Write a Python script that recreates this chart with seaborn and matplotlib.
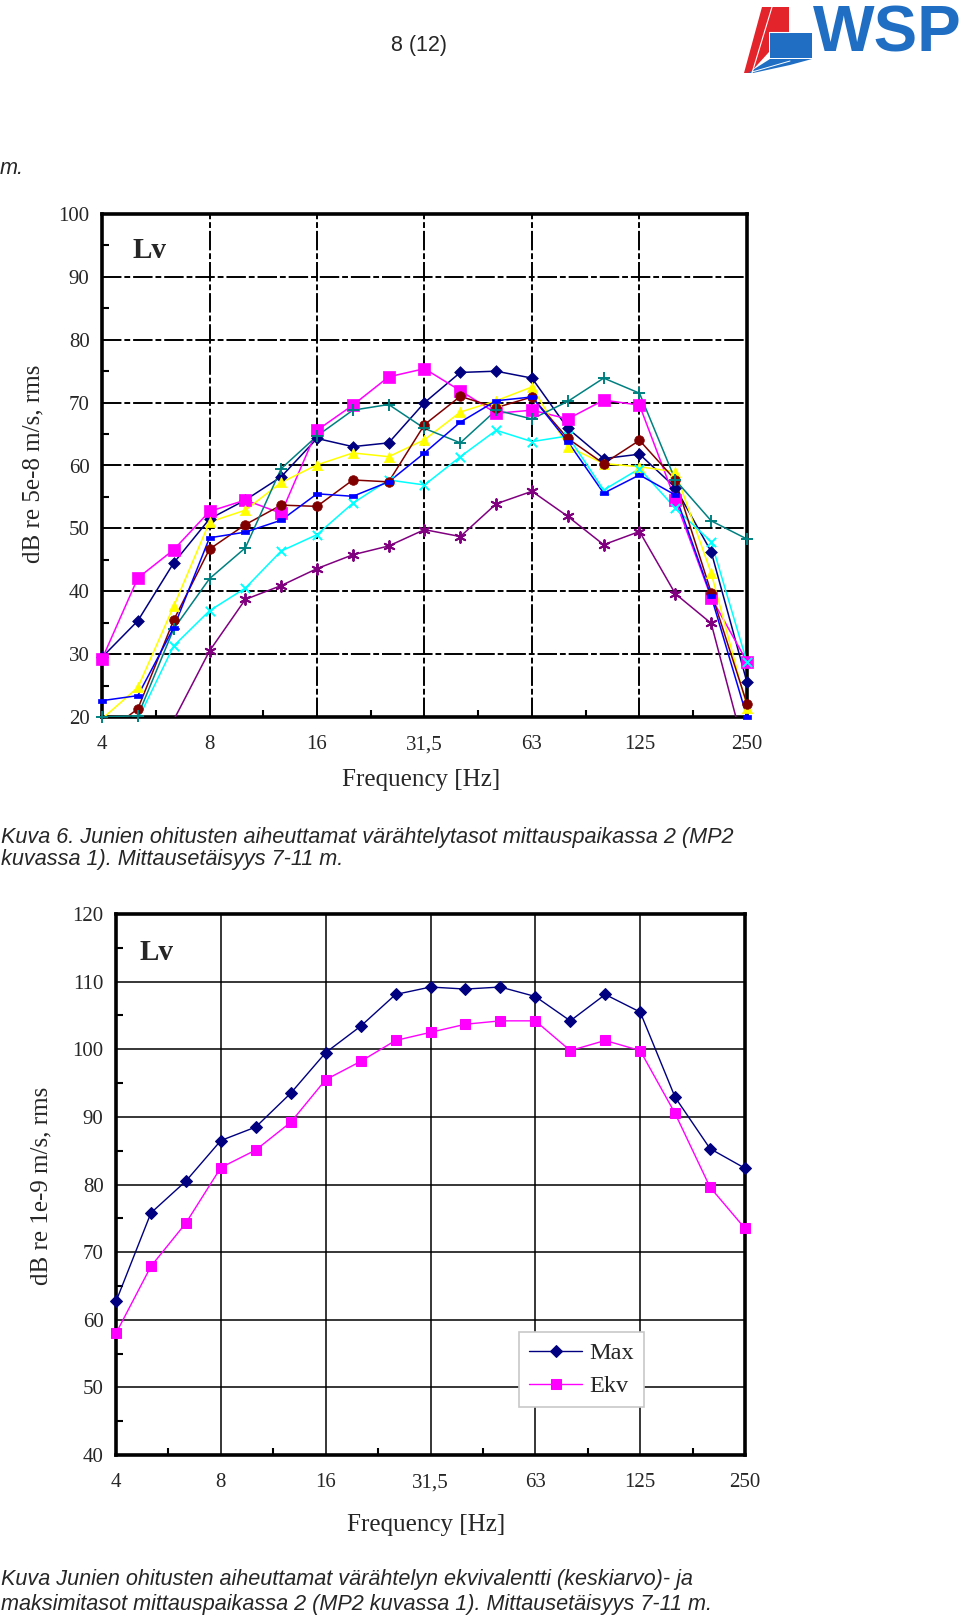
import numpy as np
import pandas as pd
import matplotlib
matplotlib.use("Agg")
import matplotlib.pyplot as plt
import seaborn as sns
from matplotlib.patches import Polygon

# ---------------- data ----------------
freqs = ["4", "5", "6,3", "8", "10", "12,5", "16", "20", "25", "31,5",
         "40", "50", "63", "80", "100", "125", "160", "200", "250"]
tick_labels = ["4", "8", "16", "31,5", "63", "125", "250"]

# top chart (dB re 5e-8 m/s), one list per pass-by
top_navy = [29.5, 35.3, 44.5, 51.5, 54.5, 58.2, 64.3, 63.0, 63.6, 70.0,
            74.8, 75.0, 73.9, 65.9, 61.1, 61.8, 56.5, 46.3, 25.5]
top_magenta = [29.2, 42.1, 46.6, 52.7, 54.5, 52.4, 65.6, 69.6, 74.1, 75.4,
               71.9, 68.3, 68.8, 67.4, 70.4, 69.6, 54.5, 39.0, 28.8]
top_yellow = [19.7, 24.7, 37.6, 51.0, 52.9, 57.3, 60.1, 62.0, 61.4, 64.1,
              68.5, 70.3, 72.5, 63.0, 60.3, 59.8, 59.0, 42.9, 21.5]
top_cyan = [15.0, 19.6, 31.3, 36.9, 40.5, 46.4, 49.0, 54.0, 57.7, 56.9,
            61.4, 65.6, 63.8, 64.7, 56.1, 59.5, 53.2, 47.9, 28.7]
top_maroon = [17.0, 21.3, 35.4, 46.7, 50.6, 53.7, 53.5, 57.7, 57.4, 66.5,
              71.0, 69.2, 70.9, 64.3, 60.3, 64.0, 57.7, 39.8, 22.1]
top_purple = [10.0, 14.0, 19.5, 30.5, 38.7, 40.9, 43.6, 45.8, 47.2, 49.8,
              48.7, 53.9, 55.9, 51.9, 47.4, 49.5, 39.6, 34.9, 13.3]
top_teal = [20.0, 20.2, 34.0, 42.0, 46.9, 59.5, 64.7, 68.8, 69.7, 65.9,
            63.6, 68.8, 67.4, 70.2, 73.9, 71.5, 57.7, 51.2, 48.3]
top_blue = [22.6, 23.4, 34.2, 48.5, 49.4, 51.3, 55.5, 55.1, 57.4, 62.0,
            66.9, 70.3, 70.9, 63.8, 55.6, 58.5, 55.3, 39.2, 20.0]

# bottom chart (dB re 1e-9 m/s)
bot_max = [62.7, 75.8, 80.5, 86.5, 88.5, 93.5, 99.5, 103.4, 108.1, 109.2,
           108.9, 109.2, 107.8, 104.2, 108.1, 105.5, 92.9, 85.3, 82.4]
bot_ekv = [58.0, 67.9, 74.3, 82.5, 85.1, 89.2, 95.5, 98.2, 101.3, 102.5,
           103.7, 104.2, 104.2, 99.8, 101.3, 99.8, 90.5, 79.6, 73.5]

# ---------------- style ----------------
sns.set_theme(style="white")
plt.rcParams["font.family"] = ["Liberation Serif", "DejaVu Serif"]
SANS = ["Liberation Sans", "DejaVu Sans"]
SERIF = ["Liberation Serif", "DejaVu Serif"]

W, H = 960, 1617
fig = plt.figure(figsize=(W / 100, H / 100), dpi=100)
fig.patch.set_facecolor("white")


def ax_rect(x0, y0, x1, y1):
    return [x0 / W, 1 - y1 / H, (x1 - x0) / W, (y1 - y0) / H]


def ftext(x, y, s, **kw):
    fig.text(x / W, 1 - y / H, s, **kw)


band = np.arange(len(freqs))
dash_marker = [(-1, -0.38), (1, -0.38), (1, 0.38), (-1, 0.38), (-1, -0.38)]


def style_axes(ax, ymin, ymax, grid_ls, grid_lw):
    ax.set_xlim(0, len(freqs) - 1)
    ax.set_ylim(ymin, ymax)
    ax.set_xticks(np.arange(0, len(freqs), 3))
    ax.set_xticklabels(tick_labels)
    ax.set_xticks(np.arange(1.5, len(freqs) - 1, 3), minor=True)
    ax.set_yticks(np.arange(ymin, ymax + 1, 10))
    ax.set_yticks(np.arange(ymin + 5, ymax, 10), minor=True)
    ax.tick_params(which="major", length=0, labelsize=15, pad=9)
    ax.tick_params(axis="x", which="major", pad=13)
    ax.tick_params(which="minor", direction="in", length=5, width=1.5,
                   color="black", bottom=True, left=True)
    for lab in ax.get_xticklabels() + ax.get_yticklabels():
        lab.set_fontfamily(SERIF)
    ax.grid(True, which="major", color="black", linestyle=grid_ls,
            linewidth=grid_lw)
    ax.set_axisbelow(True)
    for sp in ax.spines.values():
        sp.set_visible(True)
        sp.set_color("black")
        sp.set_linewidth(2.6)
    ax.set_xlabel("")
    ax.set_ylabel("")


# ---------------- top chart ----------------
ax1 = fig.add_axes(ax_rect(102, 214, 747, 717))
top_series = [
    (top_navy, "#000080", "D", 36, "#000080"),
    (top_magenta, "#FF00FF", "s", 64, "#FF00FF"),
    (top_yellow, "#FFFF00", "^", 55, "#FFFF00"),
    (top_cyan, "#00FFFF", "x", 45, "#00FFFF"),
    (top_maroon, "#800000", "o", 48, "#800000"),
    (top_purple, "#800080", (6, 2, 0), 60, "#800080"),
    (top_teal, "#008080", "+", 70, "#008080"),
    (top_blue, "#0000FF", dash_marker, 34, "#0000FF"),
]
for vals, col, mk, size, ec in top_series:
    df = pd.DataFrame({"band": band, "level": vals})
    sns.lineplot(data=df, x="band", y="level", ax=ax1, color=col,
                 linewidth=1.1, zorder=3, sort=False)
    vis = df[(df["level"] >= 20) & (df["level"] <= 100)]
    if mk in ("x", "+") or isinstance(mk, tuple):
        sns.scatterplot(data=vis, x="band", y="level", ax=ax1, marker=mk,
                        s=size, color=col, linewidth=1.4, zorder=4,
                        clip_on=False)
    else:
        sns.scatterplot(data=vis, x="band", y="level", ax=ax1, marker=mk,
                        s=size, color=col, edgecolor=ec, linewidth=0.5,
                        zorder=4, clip_on=False)
style_axes(ax1, 20, 100, (0, (10, 1.5, 3, 1.5)), 1.4)
ax1.text(0.048, 0.928, "Lv", transform=ax1.transAxes, fontsize=21,
         fontweight="bold", family=SERIF, va="center", ha="left")

ftext(33, 464, "dB re 5e-8 m/s, rms", rotation=90, ha="center",
      va="center", fontsize=18, family=SERIF)
ftext(421, 780, "Frequency [Hz]", ha="center", va="center", fontsize=18,
      family=SERIF)

# ---------------- bottom chart ----------------
ax2 = fig.add_axes(ax_rect(116, 914, 745, 1455))
df_max = pd.DataFrame({"band": band, "level": bot_max})
df_ekv = pd.DataFrame({"band": band, "level": bot_ekv})
sns.lineplot(data=df_max, x="band", y="level", ax=ax2, color="#000080",
             linewidth=1.0, marker="D", markersize=6, markeredgecolor="#000080",
             label="Max", clip_on=False, zorder=4, sort=False)
sns.lineplot(data=df_ekv, x="band", y="level", ax=ax2, color="#FF00FF",
             linewidth=1.0, marker="s", markersize=7, markeredgecolor="#FF00FF",
             label="Ekv", clip_on=False, zorder=4, sort=False)
style_axes(ax2, 40, 120, "-", 1.1)
ax2.text(0.038, 0.928, "Lv", transform=ax2.transAxes, fontsize=21,
         fontweight="bold", family=SERIF, va="center", ha="left")
leg = ax2.legend(loc="lower left", bbox_to_anchor=(0.641, 0.089),
                 frameon=True, fancybox=False, edgecolor="#c8c8c8",
                 framealpha=1, prop={"family": SERIF, "size": 17.5},
                 handlelength=2.2, borderpad=0.4, labelspacing=0.45,
                 handletextpad=0.3, borderaxespad=0)
leg.get_frame().set_linewidth(1.2)

ftext(41, 1186, "dB re 1e-9 m/s, rms", rotation=90, ha="center",
      va="center", fontsize=18, family=SERIF)
ftext(426, 1525, "Frequency [Hz]", ha="center", va="center", fontsize=18,
      family=SERIF)

# ---------------- page texts ----------------
CAP = 15.6
ftext(419, 46, "8 (12)", ha="center", va="center", fontsize=15.5, family=SANS)
ftext(0, 168, "m.", ha="left", va="center", fontsize=CAP, family=SANS,
      style="italic")
ftext(1, 837, "Kuva 6. Junien ohitusten aiheuttamat värähtelytasot "
      "mittauspaikassa 2 (MP2", ha="left", va="center", fontsize=CAP,
      family=SANS, style="italic")
ftext(1, 860, "kuvassa 1). Mittausetäisyys 7-11 m.", ha="left",
      va="center", fontsize=CAP, family=SANS, style="italic")
ftext(1, 1579, "Kuva Junien ohitusten aiheuttamat värähtelyn ekvivalentti "
      "(keskiarvo)- ja", ha="left", va="center", fontsize=CAP,
      family=SANS, style="italic")
ftext(1, 1604, "maksimitasot mittauspaikassa 2 (MP2 kuvassa 1). "
      "Mittausetäisyys 7-11 m.", ha="left", va="center", fontsize=CAP,
      family=SANS, style="italic")

# ---------------- logo ----------------
lax = fig.add_axes([0, 0, 1, 1], zorder=-1)
lax.set_xlim(0, W)
lax.set_ylim(H, 0)
lax.axis("off")
red = "#E3242B"
blue = "#1F6EC3"
lax.add_patch(Polygon([(762, 7), (789, 7), (789, 32), (769, 32), (769, 52),
                       (750, 73), (744, 73)], closed=True, color=red, lw=0))
lax.plot([772, 752], [7, 73], color="white", lw=0.8)
lax.plot([769, 789], [32, 32], color="white", lw=0.8)
lax.add_patch(Polygon([(770, 33), (812, 33), (812, 58), (770, 58)],
                      closed=True, color=blue, lw=0))
lax.add_patch(Polygon([(770, 59), (812, 59), (790, 65), (753, 73), (748, 73)],
                      closed=True, color=blue, lw=0))
lax.plot([790, 752], [61, 72], color="white", lw=0.7)
ftext(813, 34, "WSP", ha="left", va="center", fontsize=47, family=SANS,
      fontweight="bold", color=blue)

fig.savefig("out.png", dpi=100, facecolor="white")
